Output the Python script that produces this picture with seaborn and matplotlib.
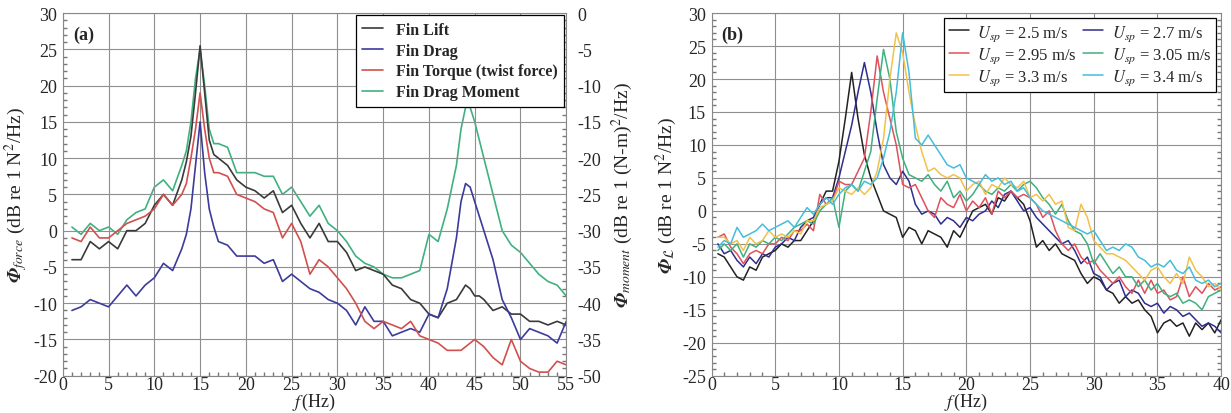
import numpy as np
import pandas as pd
import seaborn as sns
import matplotlib.pyplot as plt
from matplotlib.ticker import MultipleLocator

# (a) fin loads
f_a = [1, 2, 3, 4, 5, 6, 7, 8, 9, 10, 11, 12, 13, 13.5, 14, 14.5, 15, 15.5, 16, 16.5,
       17, 18, 19, 20, 21, 22, 23, 24, 25, 26, 27, 28, 29, 30, 31, 32, 33, 34, 35, 36,
       37, 38, 39, 40, 41, 42, 43, 43.5, 44, 44.5, 45, 45.5, 46, 47, 48, 49, 50, 51, 52, 53,
       54, 55]
lift = [-4, -4, -1.5, -2.5, -1.5, -2.5, 0, 0, 1, 3.5, 5, 3.5, 7, 9.5, 13, 19, 25.5, 19, 12.5, 10.5,
        10, 9, 7, 6, 5.5, 4.5, 5.5, 2.5, 3.5, 1, -1, 1, -1.5, -1.5, -3, -5.5, -5, -5.5, -6, -7.5,
        -8, -9.5, -10, -11.5, -12, -10, -9.5, -8.5, -7.5, -8, -9, -9, -9.5, -11, -10.5, -11.5, -11.5, -12.5, -12.5, -13,
        -12.5, -13]
drag = [-11, -10.5, -9.5, -10, -10.5, -9, -7.5, -9, -7.5, -6.5, -4.5, -5.5, -2.5, -0.5, 3, 9, 15, 8, 3, 0.5,
        -1.5, -2, -3.5, -3.5, -3.5, -4.5, -4, -7, -6, -7, -8, -8.5, -9.5, -10, -11, -13, -10.5, -12.5, -12.5, -14.5,
        -14, -13.5, -14, -11.5, -12, -8, -1, 4, 6.5, 6, 4, 2, 0, -4, -9.5, -12, -15, -13.5, -14, -14.5,
        -15.5, -12.5]
torque = [-1, -1.5, 0.5, -1, -1, 0, 1, 1.5, 2, 3, 5, 3.5, 5, 6.5, 10, 14, 19, 14, 10, 8,
          8, 7.5, 5, 4.5, 4, 3, 2.5, -1, 1, -1.5, -6, -4, -5, -6.5, -8, -10, -12.5, -13.5, -12.5, -13,
          -13.5, -12.5, -14.5, -15, -15.5, -16.5, -16.5, -16.5, -16, -15.5, -15, -15.5, -16, -17.5, -18.5, -15, -18, -19, -19.5, -19.5,
          -18, -18.5]
# drag moment, right axis units
moment = [-29.5, -30.5, -29, -30, -29.5, -30.5, -28.5, -27.5, -27, -24, -23, -24.5, -21, -19, -15, -9, -5, -10, -16, -18,
          -18, -18.5, -22, -22, -22, -22.5, -22.5, -25, -24, -26, -28, -26.5, -29, -30, -31.5, -33.5, -34.5, -35, -36, -36.5,
          -36.5, -36, -35.5, -30.5, -31.5, -27, -21, -16, -13, -13, -15, -17.5, -20, -25, -30, -32, -33, -34.5, -36, -37,
          -37.5, -39]
labels_a = ['Fin Lift', 'Fin Drag', 'Fin Torque (twist force)', 'Fin Drag Moment']
right_ticks = [0, -5, -10, -15, -20, -25, -30, -35, -40, -45, -50]
right_tick_labels = ['0', '-5', '-10', '-15', '-20', '-25', '-30', '-35', '-40', '-35', '-50']

# (b) lift spectra for each speed, 0.5 Hz steps
f_b = np.arange(1, 81) * 0.5
u25 = [-6.5, -7, -8.5, -10, -10.5, -8.5, -9, -7, -6.5, -6, -5, -5.5, -4.5, -4.5, -3, -1.5, 1, 3, 3, 7.5,
       14, 21, 14, 8.5, 5, 2.5, 0, -0.5, -1, -4, -2.5, -3, -5, -3, -3.5, -4, -5.5, -3, -4, -2,
       0, 0.5, 1, -0.5, 2, 1.5, 3, 2, 1, -1.5, -5.5, -4.5, -6, -5, -6.5, -7, -7.5, -9.5, -11, -10,
       -10.5, -12, -12.5, -14, -13, -14, -13.5, -15, -16, -18.5, -17, -16.5, -17.5, -17, -19, -17, -18, -17, -18.5, -16.5]
u27 = [-5, -6.5, -6, -7.5, -8.5, -7, -8, -6.5, -7, -5.5, -5, -4, -4.5, -2.5, -1.5, -1, 1, 2, 2, 5,
       9, 13, 18, 22.5, 18, 12, 7, 5, 4, 6, 4.5, 1, -0.5, 0, -0.5, -2, -1, -1.5, -2.5, -1,
       -1.5, -0.5, 0, 1.5, 0.5, 2.5, 3, 1.5, 0, 0.5, -1, -2, -3, -4, -5, -4.5, -6, -8, -7, -9.5,
       -10, -12, -11, -10.5, -13, -12, -12.5, -14, -14.5, -14, -15.5, -14.5, -15, -16, -15.5, -16.5, -17.5, -17, -17.5, -18.5]
u295 = [-4, -3.5, -5.5, -6.5, -8, -6.5, -6, -6.5, -5, -5, -4, -4.5, -3, -3, -2, -3, 2.5, 1, 1.5, 4.5,
        4, 4, 6, 8, 15, 23.5, 18, 14, 10, 4, 3.5, 4, 2, 0, -1, 2, 1, 0.5, 2.5, 0,
        1.5, 0.5, 2, -0.5, 3, 2, 3, 2, 2.5, 2, 1, -1, 0, -3, -5, -6, -5, -7, -8, -7.5,
        -9, -10, -11, -10, -11.5, -12.5, -10.5, -12.5, -10.5, -12.5, -12, -13.5, -13, -10, -13, -11.5, -12.5, -11, -12, -11.5]
u305 = [-6, -5, -6, -5, -7, -5, -5.5, -4.5, -5, -4, -4.5, -3.5, -2.5, -2, -1.5, -2, 0, 1, 2, -2.5,
        3, 4, 3, 6, 9, 17, 24.5, 20, 12, 8, 5.5, 5, 4.5, 5.5, 4, 3, 4.5, 2, 3, 1.5,
        2.5, 4, 3, 2.5, 3.5, 3, 4, 3, 4, 4.5, 3.5, 2, 1, -0.5, 1, -1.5, -3, -3.5, -5, -8,
        -6.5, -8, -9.5, -8.5, -10, -10, -11.5, -10.5, -12, -11, -12.5, -13, -12.5, -14, -13.5, -14, -15, -13, -12.5, -12]
u33 = [-4, -4, -5, -4.5, -6, -4, -5, -4.5, -3, -4, -3.5, -4, -3, -3.5, -1.5, -1.5, 0.5, 1, 1.5, 3.5,
       3, 2.5, 3.5, 2.5, 3.5, 6, 11, 20, 27, 24, 18, 13, 9, 6, 6.5, 5.5, 5, 5.5, 5, 3,
       4, 4.5, 2.5, 4, 3.5, 5, 4, 3.5, 4.5, 2, 2.5, 1.5, 2.5, 1, 1.5, -2.5, -3, 1, -1, -4.5,
       -5.5, -6.5, -6.5, -7, -7.5, -8.5, -9.5, -10.5, -9, -8.5, -10, -11, -9.5, -11, -7, -9, -10, -11.5, -11, -12]
u34 = [-5.5, -4.5, -5, -2.5, -4, -3.5, -3, -2, -3, -2.5, -2, -1.5, -2.5, -1, 0.5, -0.5, 1, 2, 1, 2.5,
       3.5, 4, 3, 4.5, 4, 5, 8, 12, 18, 27, 21, 11, 10, 11.5, 10, 8.5, 7, 6.5, 7, 5,
       4.5, 4, 5.5, 4.5, 5, 4, 4.5, 3, 3.5, 2, 1, 0, -0.5, -1, -1.5, -2, -2.5, -3, -3.5, -3,
       -4.5, -6, -5.5, -6, -5, -5.5, -7, -7.5, -8.5, -8, -8.5, -7.5, -9, -9.5, -8.5, -10.5, -11, -10.5, -11.5, -11]
labels_b = [r'$U_{sp}$ = 2.5 m/s', r'$U_{sp}$ = 2.7 m/s', r'$U_{sp}$ = 2.95 m/s',
            r'$U_{sp}$ = 3.05 m/s', r'$U_{sp}$ = 3.3 m/s', r'$U_{sp}$ = 3.4 m/s']

colors_a = ['#3a3a3a', '#3b3b9c', '#d1504e', '#3fb17f']
colors_b = ['#222222', '#2e2e8e', '#e0505c', '#3fb080', '#f2c14a', '#45bddc']

sns.set_theme(style='white')
plt.rcParams['font.family'] = ['Liberation Serif', 'DejaVu Serif']
plt.rcParams['mathtext.fontset'] = 'stix'
plt.rcParams['axes.unicode_minus'] = False

n_a = len(f_a)
df_a = pd.DataFrame({'f': f_a * 3, 'v': lift + drag + torque,
                     's': np.repeat(labels_a[:3], n_a)})
df_m = pd.DataFrame({'f': f_a, 'v': moment, 's': labels_a[3]})
series_b = [u25, u27, u295, u305, u33, u34]
df_b = pd.DataFrame({'f': np.tile(f_b, 6), 'v': sum(series_b, []),
                     's': np.repeat(labels_b, len(f_b))})

fig = plt.figure(figsize=(12.31, 4.14), dpi=100)
ax1 = fig.add_axes([0.051, 0.09, 0.409, 0.876])
ax3 = fig.add_axes([0.578, 0.09, 0.414, 0.876])


def style_axes(ax):
    ax.grid(True, color='#8f8f8f', lw=0.8)
    ax.xaxis.set_minor_locator(MultipleLocator(1))
    ax.yaxis.set_minor_locator(MultipleLocator(1))
    ax.tick_params(which='both', direction='in', labelsize=13)
    ax.tick_params(axis='x', pad=0)
    ax.tick_params(axis='y', pad=4)
    ax.tick_params(which='major', length=0)
    ax.tick_params(which='minor', length=3, color='#777777', left=True, bottom=True)
    for s in ax.spines.values():
        s.set_color('#888888')
        s.set_linewidth(0.8)
    # x label sits just under the tick labels, at the bottom edge
    ax.set_xlabel(r'$f\,$(Hz)', fontsize=13, va='bottom')
    ax.xaxis.set_label_coords(0.5, -0.1)


# panel (a)
sns.lineplot(data=df_a, x='f', y='v', hue='s', palette=colors_a[:3], lw=1.2,
             ax=ax1, legend=False, sort=False)
ax1.set_xlim(0, 55)
ax1.set_ylim(-20, 30)
ax1.set_xticks(range(0, 56, 5))
ax1.set_yticks(range(-20, 31, 5))
style_axes(ax1)
ax1.set_ylabel(r'$\mathbfit{\Phi}_{force}$ (dB re 1 N$^2$/Hz)', fontsize=14, labelpad=2)

ax2 = ax1.twinx()
sns.lineplot(data=df_m, x='f', y='v', color=colors_a[3], lw=1.2, ax=ax2, legend=False)
ax2.set_ylim(-50, 0)
ax2.set_yticks(right_ticks)
ax2.set_yticklabels(right_tick_labels)
ax2.yaxis.set_minor_locator(MultipleLocator(1))
ax2.tick_params(which='both', direction='in', labelsize=13, pad=8)
ax2.tick_params(which='major', length=0)
ax2.tick_params(which='minor', length=3, color='#777777')
ax2.set_ylabel(r'$\mathbfit{\Phi}_{moment}$ (dB re 1 (N-m)$^2$/Hz)', fontsize=14, labelpad=6)
for s in ax2.spines.values():
    s.set_visible(False)

handles = ax1.get_lines()[:3] + ax2.get_lines()[:1]
leg = ax1.legend(handles, labels_a, loc='upper right', frameon=True, fancybox=False,
                 edgecolor='black', framealpha=1, prop={'weight': 'bold', 'size': 11.5},
                 handlelength=1.3, labelspacing=0.3, borderaxespad=0.15, borderpad=0.4)
leg.get_frame().set_linewidth(0.9)
leg.set_zorder(5)
ax1.set_zorder(ax2.get_zorder() + 1)
ax1.patch.set_visible(False)
ax1.text(0.02, 0.965, '(a)', transform=ax1.transAxes, fontsize=13, fontweight='bold',
         va='top', ha='left')

# panel (b)
sns.lineplot(data=df_b, x='f', y='v', hue='s', palette=colors_b, lw=1.1,
             ax=ax3, legend=False, sort=False)
ax3.set_xlim(0, 40)
ax3.set_ylim(-25, 30)
ax3.set_xticks(range(0, 41, 5))
ax3.set_yticks(range(-25, 31, 5))
style_axes(ax3)
ax3.tick_params(which='minor', right=True)
ax3.set_ylabel(r'$\mathbfit{\Phi}_{\mathcal{L}}$ (dB re 1 N$^2$/Hz)', fontsize=14, labelpad=2)
lines_b = ax3.get_lines()[:6]
order = [0, 2, 4, 1, 3, 5]
leg2 = ax3.legend([lines_b[i] for i in order], [labels_b[i] for i in order], ncol=2,
                  loc='upper right', frameon=True, fancybox=False, edgecolor='black',
                  framealpha=1, fontsize=12, handlelength=1.2, labelspacing=0.15,
                  columnspacing=0.4, borderaxespad=0.3, borderpad=0.3, handletextpad=0.5)
leg2.get_frame().set_linewidth(0.9)
ax3.text(0.02, 0.965, '(b)', transform=ax3.transAxes, fontsize=13, fontweight='bold',
         va='top', ha='left')

fig.savefig('out.png', dpi=100)
